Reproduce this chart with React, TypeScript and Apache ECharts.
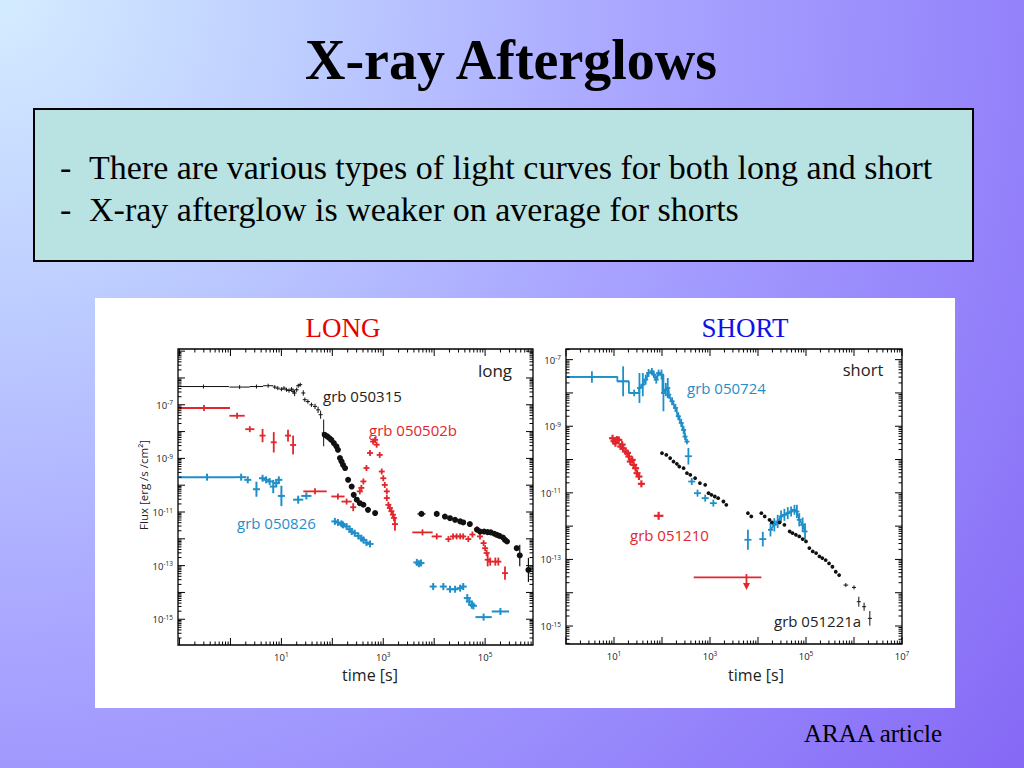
import React, { useEffect, useRef } from 'react';
import * as echarts from 'echarts';

const SANS = "'Open Sans', 'DejaVu Sans', sans-serif";
const SERIF = "'Liberation Serif', 'Times New Roman', serif";
const BLUE = '#1f8fc9';
const RED = '#e2262c';
const BLACK = '#111111';

// All values are log10(time [s]) and log10(flux [erg/s/cm^2]); [logT, logF, halfWidthT, halfWidthF]
const grb050315Cross = [
  [-0.53, -6.32, 0.5, 0.02], [0.18, -6.34, 0.2, 0.02], [0.51, -6.32, 0.13, 0.02], [0.74, -6.29, 0.1, 0.02],
  [0.87, -6.34, 0.03, 0.03], [0.93, -6.38, 0.03, 0.04], [1.0, -6.42, 0.03, 0.05], [1.05, -6.38, 0.02, 0.05],
  [1.1, -6.44, 0.02, 0.06], [1.15, -6.47, 0.02, 0.08], [1.2, -6.42, 0.02, 0.08], [1.23, -6.5, 0.02, 0.1],
  [1.26, -6.56, 0.02, 0.12], [1.3, -6.44, 0.02, 0.08], [1.33, -6.29, 0.02, 0.06], [1.37, -6.25, 0.02, 0.06],
  [1.43, -6.56, 0.02, 0.1], [1.46, -6.81, 0.02, 0.08], [1.52, -6.88, 0.03, 0.08], [1.59, -7.0, 0.03, 0.08],
  [1.66, -7.06, 0.03, 0.1], [1.72, -7.19, 0.03, 0.12], [1.77, -7.37, 0.02, 0.15], [1.83, -8.05, 0.02, 0.5],
];
const grb050315Dots = [
  [1.85, -8.12, 0, 0], [1.9, -8.18, 0, 0], [1.94, -8.24, 0, 0], [1.98, -8.31, 0, 0], [2.03, -8.43, 0, 0],
  [2.08, -8.55, 0, 0], [2.11, -8.68, 0, 0], [2.15, -8.99, 0, 0], [2.18, -9.11, 0, 0], [2.21, -9.24, 0, 0],
  [2.25, -9.36, 0, 0], [2.31, -9.8, 0, 0], [2.38, -10.05, 0, 0], [2.42, -10.36, 0, 0], [2.48, -10.54, 0, 0],
  [2.54, -10.67, 0, 0], [2.61, -10.73, 0, 0], [2.7, -10.92, 0, 0], [2.84, -11.04, 0, 0], [3.75, -11.07, 0.08, 0],
  [4.05, -11.07, 0, 0], [4.21, -11.17, 0, 0], [4.31, -11.23, 0, 0], [4.41, -11.29, 0, 0], [4.51, -11.35, 0, 0],
  [4.57, -11.39, 0, 0], [4.7, -11.45, 0, 0], [4.84, -11.66, 0, 0], [4.9, -11.73, 0, 0], [4.98, -11.73, 0, 0],
  [5.05, -11.75, 0, 0], [5.11, -11.76, 0, 0], [5.18, -11.81, 0, 0], [5.23, -11.85, 0, 0], [5.28, -11.89, 0, 0],
  [5.35, -11.95, 0, 0.05], [5.39, -12.04, 0, 0.06], [5.43, -12.1, 0, 0.08], [5.62, -12.35, 0, 0.1],
  [5.68, -12.62, 0, 0.4], [5.85, -13.16, 0, 0.45],
];
const grb050502b = [
  [-0.52, -7.12, 0.51, 0.02], [0.13, -7.41, 0.15, 0.03], [0.38, -7.91, 0.09, 0.08], [0.63, -8.15, 0.04, 0.25],
  [0.85, -8.4, 0.03, 0.38], [1.13, -8.15, 0.02, 0.22], [1.23, -8.5, 0.02, 0.35], [1.66, -10.23, 0.23, 0.04],
  [2.11, -10.42, 0.13, 0.05], [2.28, -10.61, 0.1, 0.06], [2.41, -10.82, 0.06, 0.15], [2.54, -10.23, 0.02, 0.05],
  [2.57, -10.1, 0.02, 0.05], [2.61, -9.86, 0.02, 0.04], [2.67, -9.36, 0.02, 0.04], [2.74, -8.8, 0.01, 0.03],
  [2.8, -8.37, 0.01, 0.03], [2.84, -8.31, 0.01, 0.03], [2.87, -8.49, 0.01, 0.03], [2.93, -8.87, 0.01, 0.03],
  [2.97, -9.49, 0.01, 0.04], [3.0, -9.74, 0.01, 0.04], [3.03, -9.99, 0.01, 0.05], [3.07, -10.23, 0.01, 0.05],
  [3.07, -10.48, 0.01, 0.05], [3.1, -10.73, 0.02, 0.1], [3.13, -10.85, 0.02, 0.1], [3.16, -10.97, 0.02, 0.1],
  [3.19, -11.1, 0.02, 0.12], [3.21, -11.22, 0.02, 0.12], [3.23, -11.45, 0.02, 0.25], [3.77, -11.76, 0.2, 0.03],
  [4.05, -11.91, 0.1, 0.03], [4.28, -12.01, 0.04, 0.04], [4.37, -11.91, 0.03, 0.04], [4.44, -11.91, 0.03, 0.04],
  [4.51, -11.91, 0.03, 0.04], [4.57, -11.91, 0.03, 0.04], [4.67, -12.01, 0.03, 0.05], [4.75, -11.84, 0.02, 0.05],
  [4.84, -11.64, 0.02, 0.05], [4.9, -11.91, 0.02, 0.06], [4.97, -12.16, 0.02, 0.08], [5.0, -12.35, 0.02, 0.1],
  [5.03, -12.53, 0.02, 0.12], [5.05, -12.78, 0.02, 0.25], [5.1, -12.85, 0.03, 0.15], [5.2, -12.85, 0.05, 0.15],
  [5.26, -12.85, 0.04, 0.15], [5.39, -13.28, 0.02, 0.25],
];
const grb050826 = [
  [-0.46, -9.7, 0.57, 0.02], [0.21, -9.7, 0.1, 0.03], [0.34, -9.8, 0.03, 0.05], [0.51, -10.15, 0.04, 0.28],
  [0.63, -9.74, 0.02, 0.05], [0.7, -9.8, 0.02, 0.06], [0.77, -9.86, 0.02, 0.08], [0.84, -10.05, 0.02, 0.25],
  [0.9, -9.92, 0.02, 0.15], [0.95, -9.8, 0.02, 0.12], [1.0, -10.4, 0.02, 0.38], [1.33, -10.54, 0.1, 0.15],
  [1.49, -10.4, 0.1, 0.1], [2.05, -11.35, 0.03, 0.06], [2.11, -11.39, 0.03, 0.06], [2.18, -11.44, 0.03, 0.06],
  [2.21, -11.48, 0.03, 0.06], [2.28, -11.54, 0.03, 0.06], [2.34, -11.64, 0.03, 0.06], [2.38, -11.73, 0.03, 0.06],
  [2.44, -11.79, 0.03, 0.06], [2.51, -11.89, 0.03, 0.06], [2.57, -11.98, 0.03, 0.06], [2.61, -12.04, 0.03, 0.06],
  [2.67, -12.14, 0.03, 0.06], [2.74, -12.19, 0.03, 0.06], [3.66, -12.88, 0.03, 0.06], [3.7, -12.93, 0.03, 0.06],
  [3.74, -12.9, 0.03, 0.06], [3.98, -13.78, 0.04, 0.08], [4.18, -13.78, 0.04, 0.08], [4.31, -13.88, 0.04, 0.08],
  [4.41, -13.88, 0.04, 0.08], [4.51, -13.84, 0.03, 0.1], [4.57, -13.78, 0.02, 0.12], [4.65, -14.21, 0.02, 0.15],
  [4.69, -14.34, 0.02, 0.15], [4.74, -14.46, 0.02, 0.15], [4.77, -14.5, 0.02, 0.12], [4.97, -14.92, 0.16, 0.07],
  [5.3, -14.71, 0.17, 0.1],
];

const grb050724 = [
  [0.54, -7.52, 0.53, 0.17], [1.19, -7.65, 0.12, 0.45], [1.42, -8.0, 0.11, 0.1], [1.53, -7.85, 0.01, 0.45],
  [1.6, -7.75, 0.01, 0.35], [1.66, -7.6, 0.02, 0.15], [1.72, -7.4, 0.02, 0.12], [1.79, -7.35, 0.02, 0.1],
  [1.83, -7.45, 0.02, 0.1], [1.88, -7.6, 0.02, 0.12], [1.93, -7.4, 0.02, 0.1], [1.99, -7.45, 0.02, 0.15],
  [2.03, -8.0, 0.02, 0.55], [2.08, -7.9, 0.02, 0.2], [2.12, -7.85, 0.02, 0.3], [2.14, -8.05, 0.01, 0.12],
  [2.21, -8.25, 0.02, 0.12], [2.28, -8.45, 0.02, 0.12], [2.34, -8.7, 0.02, 0.12], [2.4, -8.9, 0.02, 0.12],
  [2.45, -9.11, 0.02, 0.12], [2.48, -9.31, 0.01, 0.1], [2.52, -9.46, 0.01, 0.08],
];
const grb050724Late = [
  [2.55, -9.9, 0.01, 0.25], [2.62, -10.66, 0.02, 0.06], [2.74, -11.01, 0.06, 0.06], [2.9, -11.16, 0.06, 0.06],
  [3.07, -11.31, 0.06, 0.08], [3.79, -12.41, 0.04, 0.3], [4.1, -12.39, 0.03, 0.22],
];
const grb050724Flare = [
  [4.26, -12.11, 0.02, 0.2], [4.34, -11.96, 0.02, 0.2], [4.41, -11.86, 0.02, 0.2], [4.48, -11.71, 0.02, 0.18],
  [4.55, -11.66, 0.02, 0.18], [4.62, -11.61, 0.02, 0.18], [4.69, -11.56, 0.02, 0.15], [4.76, -11.51, 0.02, 0.15],
  [4.81, -11.56, 0.02, 0.2], [4.86, -11.81, 0.02, 0.2], [4.93, -11.96, 0.02, 0.22], [4.98, -12.16, 0.02, 0.25],
];
const grb051210 = [
  [0.97, -9.36, 0.02, 0.06], [1.0, -9.45, 0.02, 0.06], [1.03, -9.51, 0.02, 0.06], [1.06, -9.4, 0.02, 0.06],
  [1.1, -9.41, 0.02, 0.06], [1.14, -9.61, 0.02, 0.06], [1.17, -9.55, 0.02, 0.06], [1.19, -9.66, 0.02, 0.06],
  [1.24, -9.76, 0.02, 0.06], [1.28, -9.8, 0.02, 0.06], [1.31, -9.91, 0.02, 0.06], [1.34, -10.06, 0.02, 0.06],
  [1.38, -10.01, 0.02, 0.06], [1.41, -10.16, 0.02, 0.06], [1.45, -10.26, 0.02, 0.06], [1.48, -10.41, 0.02, 0.06],
  [1.52, -10.51, 0.02, 0.06], [1.57, -10.73, 0.05, 0.1], [1.93, -11.69, 0.1, 0.12],
];
// [logT, logF, logT low, logT high, logF arrow tip]
const grb051210Limit = [[3.76, -13.54, 2.66, 4.07, -13.92]];
const grb051221aDots = [
  [2.0, -9.81, 0, 0], [2.09, -9.86, 0, 0], [2.17, -9.96, 0, 0], [2.24, -10.06, 0, 0], [2.31, -10.13, 0, 0],
  [2.36, -10.21, 0, 0], [2.45, -10.26, 0, 0], [2.52, -10.41, 0, 0], [2.59, -10.46, 0, 0], [2.69, -10.56, 0, 0],
  [2.79, -10.71, 0, 0], [2.9, -10.76, 0, 0], [2.97, -11.01, 0, 0], [3.03, -11.06, 0, 0], [3.1, -11.11, 0, 0],
  [3.17, -11.16, 0, 0], [3.28, -11.26, 0, 0], [3.34, -11.36, 0, 0], [3.79, -11.61, 0, 0], [3.86, -11.71, 0, 0],
  [4.07, -11.61, 0, 0], [4.14, -11.71, 0, 0], [4.24, -11.81, 0, 0], [4.29, -11.89, 0, 0], [4.45, -11.89, 0, 0],
  [4.55, -11.96, 0, 0], [4.66, -12.16, 0, 0], [4.72, -12.21, 0, 0], [4.79, -12.26, 0, 0], [4.86, -12.31, 0, 0],
  [4.93, -12.39, 0, 0], [5.0, -12.46, 0, 0], [5.07, -12.66, 0, 0], [5.14, -12.76, 0, 0], [5.21, -12.81, 0, 0],
  [5.28, -12.91, 0, 0], [5.34, -12.96, 0, 0], [5.41, -13.02, 0, 0], [5.48, -13.12, 0, 0], [5.55, -13.22, 0, 0],
  [5.62, -13.37, 0, 0], [5.69, -13.47, 0, 0],
];
const grb051221aCross = [
  [5.83, -13.77, 0.05, 0.03], [6.0, -13.84, 0.01, 0.04], [6.1, -14.27, 0.01, 0.15], [6.21, -14.42, 0.01, 0.12],
  [6.33, -14.77, 0.01, 0.22],
];

const leftXLabels = [1, 3, 5];
const leftYLabels = [-15, -13, -11, -9, -7];
const rightXLabels = [1, 3, 5, 7];
const rightYLabels = [-15, -13, -11, -9, -7];

const LX = [-1.03, 5.94];
const LY = [-15.96, -4.92];
const RX = [0, 7];
const RY = [-15.54, -6.68];

function makeTicks(xr: number[], yr: number[]) {
  const out: number[][] = [];
  const walk = (lo: number, hi: number, fn: (v: number, major: boolean) => void) => {
    for (let n = Math.floor(lo); n <= Math.ceil(hi); n++) {
      for (let k = 1; k <= 9; k++) {
        const v = n + Math.log10(k);
        if (v < lo - 1e-6 || v > hi + 1e-6) continue;
        fn(v, k === 1);
      }
    }
  };
  walk(xr[0], xr[1], (v, major) => {
    const L = major ? 7 : 3.5;
    out.push([v, yr[0], 0, -L]);
    out.push([v, yr[1], 0, L]);
  });
  walk(yr[0], yr[1], (v, major) => {
    const L = major ? 7 : 3.5;
    out.push([xr[0], v, L, 0]);
    out.push([xr[1], v, -L, 0]);
  });
  return out;
}

const tickRender = (params: any, api: any) => {
  const p = api.coord([api.value(0), api.value(1)]);
  return {
    type: 'line',
    shape: { x1: p[0], y1: p[1], x2: p[0] + api.value(2), y2: p[1] + api.value(3) },
    style: { stroke: '#000', lineWidth: 1 },
  };
};

const errRender = (color: string, lw: number, dotR: number, minHalf: number) => (params: any, api: any) => {
  const t = api.value(0), f = api.value(1), dt = api.value(2), df = api.value(3);
  const c = api.coord([t, f]);
  const ch: any[] = [];
  if (dt > 0 || dotR === 0) {
    const l = api.coord([t - dt, f]), r = api.coord([t + dt, f]);
    let x1 = l[0], x2 = r[0];
    if (dotR === 0 && x2 - x1 < 2 * minHalf) { x1 = c[0] - minHalf; x2 = c[0] + minHalf; }
    ch.push({ type: 'line', shape: { x1, y1: c[1], x2, y2: c[1] }, style: { stroke: color, lineWidth: lw } });
  }
  if (df > 0 || dotR === 0) {
    const u = api.coord([t, f + df]), d = api.coord([t, f - df]);
    let y1 = u[1], y2 = d[1];
    if (dotR === 0 && y2 - y1 < 2 * minHalf) { y1 = c[1] - minHalf; y2 = c[1] + minHalf; }
    ch.push({ type: 'line', shape: { x1: c[0], y1, x2: c[0], y2 }, style: { stroke: color, lineWidth: lw } });
  }
  if (dotR > 0) ch.push({ type: 'circle', shape: { cx: c[0], cy: c[1], r: dotR }, style: { fill: color } });
  return { type: 'group', children: ch };
};

const limitRender = (color: string) => (params: any, api: any) => {
  const t = api.value(0), f = api.value(1);
  const l = api.coord([api.value(2), f]), r = api.coord([api.value(3), f]);
  const top = api.coord([t, f + 0.1]);
  const tip = api.coord([t, api.value(4)]);
  return {
    type: 'group',
    children: [
      { type: 'line', shape: { x1: l[0], y1: l[1], x2: r[0], y2: r[1] }, style: { stroke: color, lineWidth: 1.8 } },
      { type: 'line', shape: { x1: top[0], y1: top[1], x2: tip[0], y2: tip[1] - 4 }, style: { stroke: color, lineWidth: 1.8 } },
      { type: 'polygon', shape: { points: [[tip[0] - 3.5, tip[1] - 7], [tip[0] + 3.5, tip[1] - 7], [tip[0], tip[1]]] }, style: { fill: color } },
    ],
  };
};

const stepPath = (arr: number[][]) => arr.flatMap(([t, f, dt]) => [[t - dt, f], [t + dt, f]]);
const centerPath = (arr: number[][]) => arr.map(([t, f]) => [t, f]);

const sup = (v: number) => `{b|10}{s|${v}}`;
const richLbl = {
  b: { fontSize: 9.5, fontFamily: SANS, color: '#222', lineHeight: 11, verticalAlign: 'bottom' },
  s: { fontSize: 6.5, fontFamily: SANS, color: '#222', lineHeight: 7, verticalAlign: 'top' },
};

function axisPair(idx: number, xr: number[], yr: number[], xl: number[], yl: number[]) {
  const base = {
    type: 'value', gridIndex: idx,
    axisLine: { show: false }, axisTick: { show: false }, splitLine: { show: false },
  };
  return {
    x: { ...base, min: xr[0], max: xr[1], axisLabel: { customValues: xl, formatter: sup, rich: richLbl, margin: 6 } },
    y: { ...base, min: yr[0], max: yr[1], axisLabel: { customValues: yl, formatter: sup, rich: richLbl, margin: 5 } },
  };
}

function errSeries(idx: number, data: number[][], color: string, lw: number, dotR: number, minHalf = 2) {
  return {
    type: 'custom', xAxisIndex: idx, yAxisIndex: idx, clip: true, z: 5, silent: true,
    encode: { x: 0, y: 1 }, data, renderItem: errRender(color, lw, dotR, minHalf),
  };
}

function lineSeries(idx: number, data: number[][], color: string, width: number) {
  return {
    type: 'line', xAxisIndex: idx, yAxisIndex: idx, data, showSymbol: false, symbol: 'none',
    lineStyle: { color, width }, z: 4, silent: true, clip: true,
  };
}

const txt = (text: string, x: number, y: number, size: number, color: string, family: string, align = 'left', weight = 'normal', extra: any = {}) => ({
  type: 'text', x, y, z: 20, ...extra,
  style: {
    text, fill: color, fontSize: size, fontFamily: family, fontWeight: weight,
    align, verticalAlign: 'middle', textAlign: align, textVerticalAlign: 'middle',
  },
});

export default function App() {
  const ref = useRef<HTMLDivElement>(null);
  useEffect(() => {
    if (!ref.current) return;
    const chart = echarts.init(ref.current, null, { renderer: 'svg' });
    const a0 = axisPair(0, LX, LY, leftXLabels, leftYLabels);
    const a1 = axisPair(1, RX, RY, rightXLabels, rightYLabels);
    const gridStyle = { show: true, borderColor: '#000', borderWidth: 1.3, backgroundColor: 'rgba(0,0,0,0)' };
    chart.setOption({
      animation: false,
      grid: [
        { left: 178, top: 349, width: 355, height: 296, ...gridStyle },
        { left: 566, top: 349, width: 336, height: 295, ...gridStyle },
      ],
      xAxis: [a0.x, a1.x],
      yAxis: [a0.y, a1.y],
      graphic: [
        {
          type: 'rect', z: -100, shape: { x: 0, y: 0, width: 1024, height: 768 },
          style: {
            fill: {
              type: 'radial', x: 0, y: 0, r: 1300, global: true,
              colorStops: [
                { offset: 0, color: '#d4ecff' },
                { offset: 0.25, color: '#bccbff' },
                { offset: 0.5, color: '#a8a4ff' },
                { offset: 0.75, color: '#9686fb' },
                { offset: 1, color: '#8466f5' },
              ],
            },
          },
        },
        { type: 'rect', z: -90, shape: { x: 34, y: 109, width: 939, height: 152 }, style: { fill: '#b9e3e3', stroke: '#000', lineWidth: 2 } },
        { type: 'rect', z: -90, shape: { x: 95, y: 298, width: 860, height: 410 }, style: { fill: '#ffffff' } },
        txt('X-ray Afterglows', 511, 60, 56, '#000', SERIF, 'center', 'bold'),
        txt('-', 60, 167, 34, '#000', SERIF),
        txt('There are various types of light curves for both long and short', 89, 167, 34, '#000', SERIF),
        txt('-', 60, 209, 34, '#000', SERIF),
        txt('X-ray afterglow is weaker on average for shorts', 89, 209, 34, '#000', SERIF),
        txt('LONG', 343, 328, 27, '#e60000', SERIF, 'center'),
        txt('SHORT', 745, 328, 27, '#1010e6', SERIF, 'center'),
        txt('ARAA article', 873, 733, 25, '#000', SERIF, 'center'),
        txt('Flux [erg /s /cm²]', 143, 485, 11.5, '#222', SANS, 'center', 'normal', { rotation: Math.PI / 2 }),
        txt('time [s]', 370, 675, 16, '#222', SANS, 'center'),
        txt('time [s]', 756, 675, 16, '#222', SANS, 'center'),
        txt('long', 495, 370, 17, '#222', SANS, 'center'),
        txt('short', 863, 369, 16.5, '#222', SANS, 'center'),
        txt('grb 050315', 323, 396, 15, '#222', SANS),
        txt('grb 050502b', 369, 430, 15, RED, SANS),
        txt('grb 050826', 237, 523, 15, BLUE, SANS),
        txt('grb 050724', 687, 388, 15, BLUE, SANS),
        txt('grb 051210', 630, 535, 15, RED, SANS),
        txt('grb 051221a', 774, 621, 15, '#222', SANS),
      ],
      series: [
        { type: 'custom', xAxisIndex: 0, yAxisIndex: 0, clip: false, silent: true, z: 6, encode: { x: 0, y: 1 }, data: makeTicks(LX, LY), renderItem: tickRender },
        { type: 'custom', xAxisIndex: 1, yAxisIndex: 1, clip: false, silent: true, z: 6, encode: { x: 0, y: 1 }, data: makeTicks(RX, RY), renderItem: tickRender },
        errSeries(0, grb050826, BLUE, 2, 0, 3.5),
        errSeries(0, grb050502b, RED, 1.8, 0, 3),
        errSeries(0, grb050315Cross, BLACK, 1, 0, 2),
        errSeries(0, grb050315Dots, BLACK, 1.2, 3),
        lineSeries(1, stepPath(grb050724), BLUE, 1.8),
        lineSeries(1, centerPath(grb050724Flare), BLUE, 1.8),
        errSeries(1, grb050724, BLUE, 1.8, 0, 2.5),
        errSeries(1, grb050724Late, BLUE, 1.8, 0, 3.5),
        errSeries(1, grb050724Flare, BLUE, 1.8, 0, 2.5),
        errSeries(1, grb051210, RED, 2.2, 0, 3.5),
        {
          type: 'custom', xAxisIndex: 1, yAxisIndex: 1, clip: true, silent: true, z: 5,
          encode: { x: 0, y: 1 }, data: grb051210Limit, renderItem: limitRender(RED),
        },
        errSeries(1, grb051221aDots, BLACK, 1, 1.9),
        errSeries(1, grb051221aCross, BLACK, 1, 0, 2),
      ],
    });
    return () => chart.dispose();
  }, []);
  return <div ref={ref} style={{ position: 'absolute', left: 0, top: 0, width: 1024, height: 768 }} />;
}
